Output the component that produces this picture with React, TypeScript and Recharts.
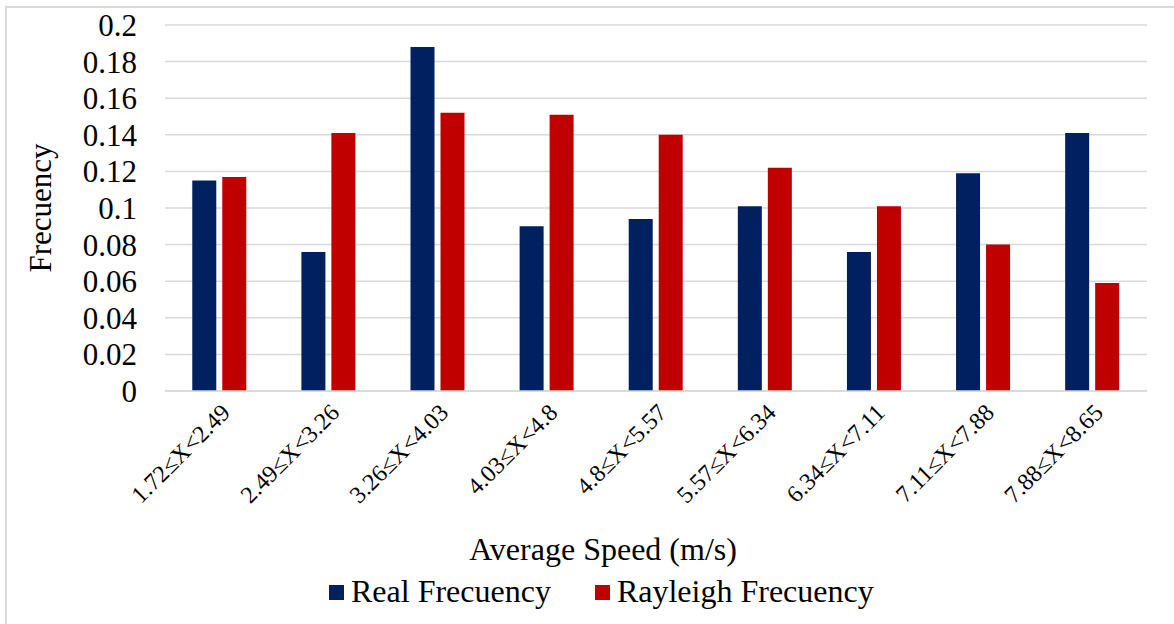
import { BarChart, Bar, XAxis, YAxis, CartesianGrid, Legend } from "recharts";

const speedRanges = [
  "1.72≤X<2.49",
  "2.49≤X<3.26",
  "3.26≤X<4.03",
  "4.03≤X<4.8",
  "4.8≤X<5.57",
  "5.57≤X<6.34",
  "6.34≤X<7.11",
  "7.11≤X<7.88",
  "7.88≤X<8.65",
];
const realFrequency = [0.115, 0.076, 0.188, 0.09, 0.094, 0.101, 0.076, 0.119, 0.141];
const rayleighFrequency = [0.117, 0.141, 0.152, 0.151, 0.14, 0.122, 0.101, 0.08, 0.059];
const yTicks = [0, 0.02, 0.04, 0.06, 0.08, 0.1, 0.12, 0.14, 0.16, 0.18, 0.2];

const data = speedRanges.map((range, i) => ({
  range,
  real: realFrequency[i],
  rayleigh: rayleighFrequency[i],
}));

const FONT = '"Liberation Serif", "Times New Roman", serif';
const NAVY = "#002060";
const RED = "#C00000";
const GRID = "#d9d9d9";

function LegendContent() {
  const items = [
    { label: "Real Frecuency", color: NAVY },
    { label: "Rayleigh Frecuency", color: RED },
  ];
  return (
    <div style={{ display: "flex", alignItems: "center", fontFamily: FONT, fontSize: 32, lineHeight: 1 }}>
      {items.map((it, i) => (
        <div key={it.label} style={{ display: "flex", alignItems: "center", marginLeft: i ? 44 : 0 }}>
          <span style={{ width: 15, height: 15, background: it.color, marginRight: 7, marginTop: 2 }} />
          <span style={{ color: "#000", fontFamily: FONT }}>{it.label}</span>
        </div>
      ))}
    </div>
  );
}

export default function App() {
  return (
    <div style={{ position: "absolute", left: 0, top: 0, width: 1174, height: 624, background: "#fff", fontFamily: FONT }}>
      <div
        style={{
          position: "absolute",
          left: 5,
          top: 6,
          right: 0,
          bottom: 0,
          borderTop: `2px solid ${GRID}`,
          borderLeft: `2px solid ${GRID}`,
        }}
      />
      <BarChart
        width={1174}
        height={624}
        data={data}
        margin={{ top: 25, right: 27, bottom: 63, left: 0 }}
        barCategoryGap="25%"
        barGap={6}
        style={{ fontFamily: FONT }}
      >
        <CartesianGrid vertical={false} stroke={GRID} strokeWidth={1.5} />
        <XAxis
          dataKey="range"
          height={170}
          interval={0}
          tickLine={false}
          axisLine={{ stroke: GRID, strokeWidth: 1.5 }}
          angle={-45}
          textAnchor="end"
          tickMargin={5}
          tick={{ fill: "#000", fontSize: 24, fontFamily: FONT }}
          label={{
            value: "Average Speed (m/s)",
            position: "insideBottom",
            offset: 1,
            dx: -53,
            style: { fill: "#000", fontSize: 32, fontFamily: FONT },
          }}
        />
        <YAxis
          width={165}
          domain={[0, 0.2]}
          ticks={yTicks}
          interval={0}
          tickLine={false}
          axisLine={false}
          tickMargin={22}
          tickFormatter={(v: number) => String(Number(v.toFixed(2)))}
          tick={{ fill: "#000", fontSize: 31, fontFamily: FONT }}
          label={{
            value: "Frecuency",
            angle: -90,
            position: "insideLeft",
            offset: 40,
            style: { fill: "#000", fontSize: 31, fontFamily: FONT, textAnchor: "middle" },
          }}
        />
        <Legend
          verticalAlign="middle"
          content={<LegendContent />}
          wrapperStyle={{ position: "absolute", top: 575, left: 329, width: "auto" }}
        />
        <Bar dataKey="real" name="Real Frecuency" fill={NAVY} isAnimationActive={false} />
        <Bar dataKey="rayleigh" name="Rayleigh Frecuency" fill={RED} isAnimationActive={false} />
      </BarChart>
    </div>
  );
}
